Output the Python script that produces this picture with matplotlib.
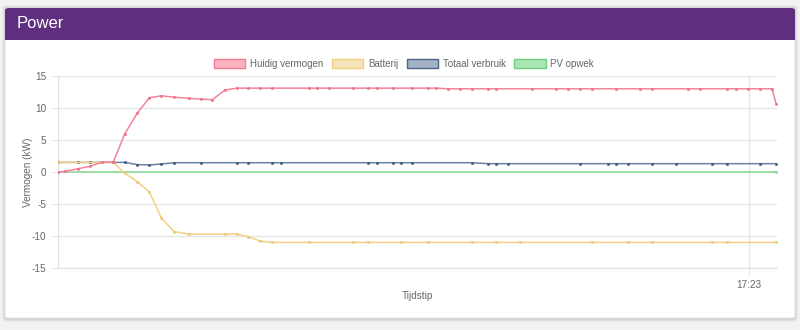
import matplotlib.pyplot as plt
import matplotlib.dates as mdates
import pandas as pd
from matplotlib.patches import FancyBboxPatch, Rectangle, Patch

plt.rcParams['font.family'] = ['Liberation Sans', 'DejaVu Sans']
plt.rcParams['axes.unicode_minus'] = False

day = "2024-01-01 "

huidig_t = ["16:25:20", "16:25:55", "16:26:58", "16:28:00", "16:28:58", "16:29:57", "16:30:55",
            "16:31:57", "16:32:57", "16:33:58", "16:35:00", "16:36:15", "16:37:15", "16:38:13",
            "16:39:15", "16:40:15", "16:41:12", "16:42:13", "16:43:13", "16:46:15", "16:46:55",
            "16:47:55", "16:49:56", "16:51:13", "16:51:55", "16:53:15", "16:54:53", "16:56:13",
            "16:56:53", "16:57:55", "16:58:53", "16:59:55", "17:01:11", "17:01:53", "17:04:53",
            "17:06:55", "17:07:55", "17:08:55", "17:09:55", "17:11:55", "17:13:55", "17:14:55",
            "17:17:55", "17:18:55", "17:21:10", "17:21:55", "17:22:55", "17:23:55", "17:24:55",
            "17:25:15"]
huidig_v = [0.0, 0.1, 0.5, 0.9, 1.5, 1.6, 6.0,
            9.2, 11.6, 11.9, 11.7, 11.5, 11.4, 11.3,
            12.8, 13.1, 13.1, 13.1, 13.1, 13.1, 13.1,
            13.1, 13.1, 13.1, 13.1, 13.1, 13.1, 13.1,
            13.1, 13.0, 13.0, 13.0, 13.0, 13.0, 13.0,
            13.0, 13.0, 13.0, 13.0, 13.0, 13.0, 13.0,
            13.0, 13.0, 13.0, 13.0, 13.0, 13.0, 13.0,
            10.7]

batterij_t = ["16:25:20", "16:29:57", "16:30:55", "16:31:57", "16:32:57", "16:33:58", "16:35:00",
              "16:36:15", "16:39:15", "16:40:15", "16:41:12", "16:42:13", "16:43:13", "16:46:15",
              "16:49:56", "16:51:13", "16:53:55", "16:56:13", "16:59:55", "17:01:55", "17:03:55",
              "17:09:55", "17:12:55", "17:14:55", "17:19:55", "17:21:10", "17:25:15"]
batterij_v = [1.5, 1.5, -0.2, -1.5, -3.1, -7.2, -9.3,
              -9.7, -9.7, -9.7, -10.1, -10.8, -11.0, -11.0,
              -11.0, -11.0, -11.0, -11.0, -11.0, -11.0, -11.0,
              -11.0, -11.0, -11.0, -11.0, -11.0, -11.0]

verbruik_t = ["16:25:20", "16:26:58", "16:28:00", "16:29:57", "16:30:55", "16:31:57", "16:32:57",
              "16:33:58", "16:35:00", "16:37:15", "16:40:15", "16:41:12", "16:43:13", "16:43:55",
              "16:51:13", "16:51:55", "16:53:15", "16:53:55", "16:54:53", "16:59:55", "17:01:11",
              "17:01:53", "17:02:55", "17:08:55", "17:11:13", "17:11:55", "17:12:53", "17:14:55",
              "17:16:53", "17:19:55", "17:21:10", "17:23:55", "17:25:15"]
verbruik_v = [1.5, 1.5, 1.5, 1.5, 1.5, 1.15, 1.1,
              1.25, 1.45, 1.45, 1.45, 1.45, 1.45, 1.45,
              1.45, 1.45, 1.45, 1.45, 1.45, 1.45, 1.3,
              1.3, 1.3, 1.3, 1.3, 1.3, 1.3, 1.3,
              1.3, 1.3, 1.3, 1.3, 1.3]

pv_t = ["16:25:20", "17:25:15"]
pv_v = [0.0, 0.0]

x_start, x_end = "16:25:20", "17:25:20"
x_tick = "17:23"
y_ticks = [-15, -10, -5, 0, 5, 10, 15]


def to_dt(times):
    return pd.to_datetime([day + t for t in times])


W, H = 800, 330
fig = plt.figure(figsize=(W / 100, H / 100), dpi=100)
fig.patch.set_facecolor('#f2f2f2')


def fx(px):
    return px / W


def fy(py):
    return 1 - py / H


# card with soft shadow
for i, a in enumerate([0.03, 0.04, 0.05]):
    d = 3 - i
    fig.patches.append(FancyBboxPatch((fx(5 - d), fy(319 + d)), fx(790 + 2 * d), (311 + 2 * d) / H,
                                      boxstyle="round,pad=0,rounding_size=0.006",
                                      transform=fig.transFigure, facecolor='black', alpha=a,
                                      edgecolor='none', zorder=0))
fig.patches.append(FancyBboxPatch((fx(5), fy(318)), fx(790), 310 / H,
                                  boxstyle="round,pad=0,rounding_size=0.006",
                                  transform=fig.transFigure, facecolor='white',
                                  edgecolor='#e2e2e2', lw=0.6, zorder=1))
fig.patches.append(FancyBboxPatch((fx(5), fy(40)), fx(790), 32 / H,
                                  boxstyle="round,pad=0,rounding_size=0.006",
                                  transform=fig.transFigure, facecolor='#5f2e7e',
                                  edgecolor='none', zorder=2))
fig.patches.append(Rectangle((fx(5), fy(40)), fx(790), 10 / H, transform=fig.transFigure,
                             facecolor='#5f2e7e', edgecolor='none', zorder=2))
fig.text(fx(17), fy(24), "Power", color='white', fontsize=12, va='center', ha='left', zorder=3)

ax = fig.add_axes([fx(58), fy(268), fx(777 - 58), (268 - 76) / H])
ax.set_zorder(5)
ax.set_facecolor('none')

series = [
    (pv_t, pv_v, '#86d993', '#86d993', 2),
    (verbruik_t, verbruik_v, '#6a819f', '#34507a', 3),
    (batterij_t, batterij_v, '#f2d084', '#eac573', 4),
    (huidig_t, huidig_v, '#f4849b', '#ee6a85', 5),
]
for t, v, lc, mc, z in series:
    ax.plot(to_dt(t), v, color=lc, lw=1.1, marker='s', markersize=1.3,
            markerfacecolor=mc, markeredgecolor=mc, markeredgewidth=0.4, zorder=z)

ax.set_xlim(pd.Timestamp(day + x_start), pd.Timestamp(day + x_end))
ax.set_ylim(-15, 15)
ax.set_yticks(y_ticks)
ax.set_xticks([pd.Timestamp(day + x_tick)])
ax.xaxis.set_major_formatter(mdates.DateFormatter('%H:%M'))
ax.grid(True, color='#e6e6e6', lw=0.9)
ax.set_axisbelow(True)
ax.tick_params(length=5, color='#e6e6e6', labelcolor='#666666', labelsize=7.2)
for s in ['top', 'right']:
    ax.spines[s].set_visible(False)
for s in ['left', 'bottom']:
    ax.spines[s].set_color('#e0e0e0')
ax.set_ylabel("Vermogen (kW)", color='#666666', fontsize=7.2)
ax.yaxis.set_label_coords(-0.035, 0.5)
ax.set_xlabel("Tijdstip", color='#666666', fontsize=7.2, labelpad=1)

handles = [
    Patch(facecolor='#f7b3c2', edgecolor='#f27a93', label='Huidig vermogen'),
    Patch(facecolor='#f5e4bb', edgecolor='#f0cd7a', label='Batterij'),
    Patch(facecolor='#a4b3c4', edgecolor='#4a6585', label='Totaal verbruik'),
    Patch(facecolor='#a8e6b3', edgecolor='#6fd07f', label='PV opwek'),
]
leg = fig.legend(handles=handles, loc='center', bbox_to_anchor=(fx(404), fy(64)), ncol=4,
                 frameon=False, fontsize=7.0, handlelength=3.2, handleheight=1.05,
                 handletextpad=0.5, columnspacing=0.9)
for txt in leg.get_texts():
    txt.set_color('#666666')

fig.savefig('out.png', dpi=100, facecolor=fig.get_facecolor())
